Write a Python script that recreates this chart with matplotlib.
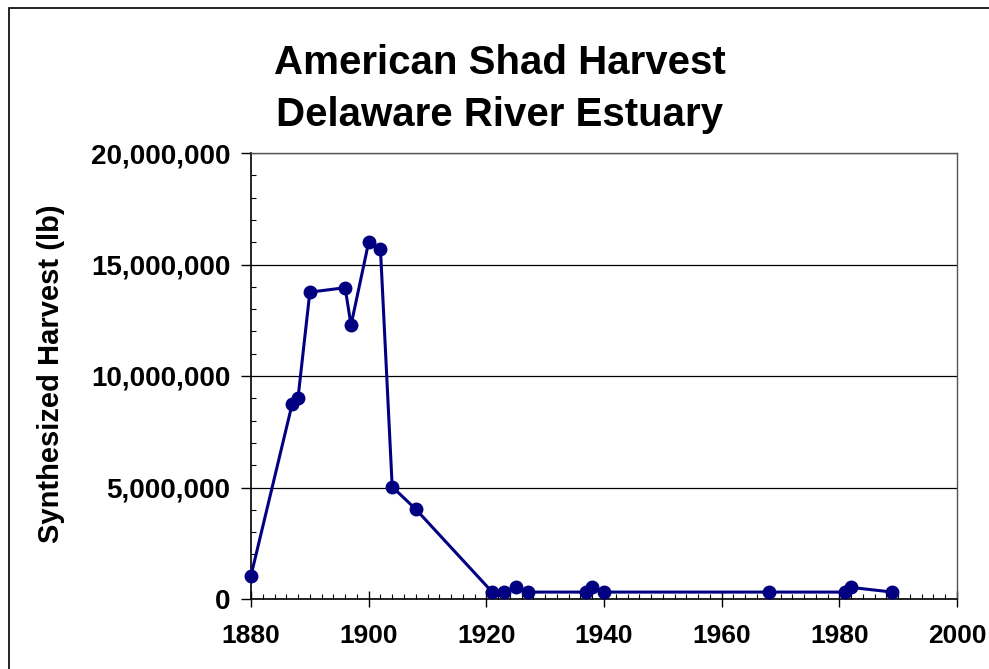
import matplotlib
matplotlib.use('Agg')
import matplotlib.pyplot as plt
from matplotlib.ticker import MultipleLocator, FuncFormatter
from matplotlib.patches import Rectangle

plt.rcParams['font.family'] = ['Liberation Sans', 'DejaVu Sans']
plt.rcParams['font.weight'] = 'bold'

# datos
years = [1880, 1887, 1888, 1890, 1896, 1897, 1900, 1902, 1904, 1908,
         1921, 1923, 1925, 1927, 1937, 1938, 1940, 1968, 1981, 1982, 1989]
harvest = [1050000, 8750000, 9030000, 13760000, 13960000, 12280000,
           16000000, 15710000, 5030000, 4030000, 310000, 310000, 520000,
           310000, 310000, 550000, 310000, 310000, 310000, 520000, 310000]

title = 'American Shad Harvest\nDelaware River Estuary'
ylabel = 'Synthesized Harvest (lb)'

fig = plt.figure(figsize=(9.89, 6.69), dpi=100)
ax = fig.add_axes([251/989, 1 - 599/669, (957 - 251)/989, (599 - 153)/669])

ax.plot(years, harvest, color='#000080', lw=2.2, marker='o', ms=9,
        mfc='#000080', mec='#000080', clip_on=False, zorder=3)

ax.set_xlim(1880, 2000)
ax.set_ylim(0, 20000000)
ax.xaxis.set_major_locator(MultipleLocator(20))
ax.xaxis.set_minor_locator(MultipleLocator(2))
ax.yaxis.set_major_locator(MultipleLocator(5000000))
ax.yaxis.set_minor_locator(MultipleLocator(1000000))
ax.yaxis.set_major_formatter(FuncFormatter(lambda v, p: f'{int(v):,}'))

ax.grid(axis='y', which='major', color='black', lw=0.9)
ax.set_axisbelow(True)

ax.tick_params(axis='x', which='major', direction='inout', length=12,
               width=1, pad=12, labelsize=19)
ax.tick_params(axis='x', which='minor', direction='in', length=3.5, width=0.8)
ax.tick_params(axis='y', which='major', direction='out', length=7,
               width=1, pad=8, labelsize=20)
ax.tick_params(axis='y', which='minor', direction='in', length=3.5, width=0.8)
for lab in ax.get_xticklabels() + ax.get_yticklabels():
    lab.set_fontweight('bold')

for s in ['left', 'bottom']:
    ax.spines[s].set_color('black')
    ax.spines[s].set_linewidth(1.2)
for s in ['top', 'right']:
    ax.spines[s].set_color('#555555')
    ax.spines[s].set_linewidth(1.0)

fig.text(0.505, 1 - 89/669, title, ha='center', va='center', fontsize=29,
         fontweight='bold', linespacing=1.45)
fig.text(51/989, 1 - 374/669, ylabel, ha='center', va='center',
         rotation=90, fontsize=21, fontweight='bold')

# marco exterior de la figura
fig.patches.append(Rectangle((9/989, -0.1), 1.1, 1 - 8/669 + 0.1,
                             transform=fig.transFigure, fill=False,
                             edgecolor='black', lw=1.2))

plt.savefig('out.png', dpi=100)
